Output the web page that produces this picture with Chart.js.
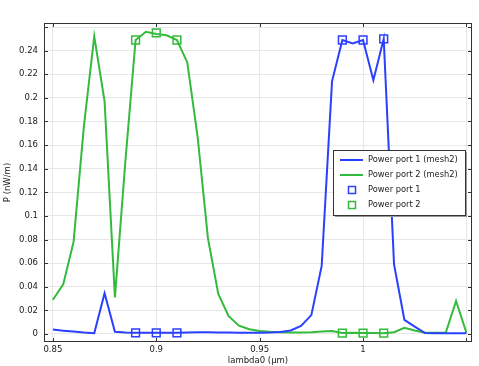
<!DOCTYPE html>
<html>
<head>
<meta charset="utf-8">
<script src="https://cdn.jsdelivr.net/npm/chart.js@4.4.0/dist/chart.umd.min.js"></script>
<style>
  body { margin: 0; background: #fff; }
  #wrap { width: 479px; height: 366px; }
</style>
</head>
<body>
<div id="wrap"><canvas id="powerChart" width="479" height="366"></canvas></div>
<script>
// lambda0 (µm)
const lambda = [0.85, 0.855, 0.86, 0.865, 0.87, 0.875, 0.88, 0.885, 0.89, 0.895,
                0.9, 0.905, 0.91, 0.915, 0.92, 0.925, 0.93, 0.935, 0.94, 0.945,
                0.95, 0.955, 0.96, 0.965, 0.97, 0.975, 0.98, 0.985, 0.99, 0.995,
                1.0, 1.005, 1.01, 1.015, 1.02, 1.025, 1.03, 1.035, 1.04, 1.045, 1.05];

// P (nW/m), mesh2 sweep
const port1Mesh2 = [0.0037, 0.0028, 0.002, 0.0012, 0.0007, 0.0345, 0.0018, 0.0013, 0.001, 0.001,
                    0.001, 0.001, 0.001, 0.0013, 0.0015, 0.0015, 0.0013, 0.0012, 0.001, 0.001,
                    0.001, 0.0012, 0.0017, 0.003, 0.0068, 0.016, 0.0576, 0.214, 0.249, 0.246,
                    0.249, 0.215, 0.25, 0.059, 0.012, 0.0062, 0.0008, 0.0006, 0.0006, 0.0006, 0.0006];
const port2Mesh2 = [0.029, 0.042, 0.078, 0.176, 0.252, 0.197, 0.031, 0.145, 0.249, 0.256,
                    0.254, 0.253, 0.249, 0.23, 0.167, 0.081, 0.034, 0.015, 0.007, 0.004,
                    0.0025, 0.0018, 0.0015, 0.0013, 0.0013, 0.0015, 0.002, 0.0025, 0.0008, 0.001,
                    0.0008, 0.0008, 0.0007, 0.0015, 0.0053, 0.003, 0.001, 0.001, 0.001, 0.028, 0.001];

// marker points
const markLambda = [0.89, 0.9, 0.91, 0.99, 1.0, 1.01];
const port1Marks = [0.001, 0.001, 0.001, 0.249, 0.249, 0.25];
const port2Marks = [0.249, 0.255, 0.249, 0.0008, 0.0008, 0.0007];

const xTicks = [0.85, 0.9, 0.95, 1, 1.05];
const yTicks = [0, 0.02, 0.04, 0.06, 0.08, 0.1, 0.12, 0.14, 0.16, 0.18, 0.2, 0.22, 0.24, 0.26];

const blue = '#2a40ff';
const green = '#33bb3c';
const fontFamily = '"DejaVu Sans", sans-serif';
const fontSize = 8.5;

function pairs(xs, ys) {
    return xs.map((x, i) => ({ x: x, y: ys[i] }));
}

// frame + inward ticks on all four sides
const framePlugin = {
    id: 'frame',
    afterDraw(chart) {
        const { ctx, chartArea: a, scales } = chart;
        ctx.save();
        ctx.strokeStyle = '#333';
        ctx.lineWidth = 1;
        ctx.strokeRect(a.left + 0.5, a.top + 0.5, a.right - a.left - 1, a.bottom - a.top - 1);
        ctx.beginPath();
        xTicks.forEach(v => {
            const px = Math.round(scales.x.getPixelForValue(v)) + 0.5;
            ctx.moveTo(px, a.bottom); ctx.lineTo(px, a.bottom - 4);
            ctx.moveTo(px, a.top); ctx.lineTo(px, a.top + 4);
        });
        yTicks.forEach(v => {
            const py = Math.round(scales.y.getPixelForValue(v)) + 0.5;
            ctx.moveTo(a.left, py); ctx.lineTo(a.left + 4, py);
            ctx.moveTo(a.right, py); ctx.lineTo(a.right - 4, py);
        });
        ctx.stroke();
        ctx.restore();
    }
};

// legend box inside plot, right side
const legendPlugin = {
    id: 'boxLegend',
    afterDraw(chart) {
        const ctx = chart.ctx;
        const x0 = 333, y0 = 150, w = 132, h = 65;
        ctx.save();
        ctx.fillStyle = '#999';
        ctx.fillRect(x0 + 2, y0 + 2, w, h);
        ctx.fillStyle = '#fff';
        ctx.fillRect(x0, y0, w, h);
        ctx.strokeStyle = '#333';
        ctx.lineWidth = 1;
        ctx.strokeRect(x0 + 0.5, y0 + 0.5, w, h);
        ctx.font = '8.3px ' + fontFamily;
        ctx.textBaseline = 'middle';
        const rows = [160, 175, 190, 205];
        chart.data.datasets.forEach((ds, i) => {
            const y = rows[i];
            ctx.strokeStyle = ds.borderColor;
            if (ds.showLine) {
                ctx.lineWidth = 2;
                ctx.beginPath();
                ctx.moveTo(340, y); ctx.lineTo(363, y);
                ctx.stroke();
            } else {
                ctx.lineWidth = 1.5;
                ctx.strokeRect(348.5, y - 3.5, 7, 7);
            }
            ctx.fillStyle = '#222';
            ctx.fillText(ds.label, 368, y);
        });
        ctx.restore();
    }
};

const ctx = document.getElementById('powerChart').getContext('2d');
const chart = new Chart(ctx, {
    type: 'line',
    data: {
        datasets: [{
            label: 'Power port 1 (mesh2)',
            data: pairs(lambda, port1Mesh2),
            borderColor: blue,
            borderWidth: 2,
            pointRadius: 0,
            showLine: true,
            tension: 0
        }, {
            label: 'Power port 2 (mesh2)',
            data: pairs(lambda, port2Mesh2),
            borderColor: green,
            borderWidth: 2,
            pointRadius: 0,
            showLine: true,
            tension: 0
        }, {
            label: 'Power port 1',
            data: pairs(markLambda, port1Marks),
            borderColor: blue,
            backgroundColor: 'rgba(255,255,255,0)',
            showLine: false,
            pointStyle: 'rect',
            pointRadius: 5.5,
            pointBorderWidth: 1.5
        }, {
            label: 'Power port 2',
            data: pairs(markLambda, port2Marks),
            borderColor: green,
            backgroundColor: 'rgba(255,255,255,0)',
            showLine: false,
            pointStyle: 'rect',
            pointRadius: 5.5,
            pointBorderWidth: 1.5
        }]
    },
    options: {
        responsive: false,
        animation: false,
        layout: { padding: { top: 23, right: 7, left: 0, bottom: 0 } },
        plugins: {
            legend: { display: false },
            tooltip: { enabled: false }
        },
        scales: {
            x: {
                type: 'linear',
                min: 0.8457,
                max: 1.0527,
                afterFit: s => { s.height = 24; },
                afterBuildTicks: s => { s.ticks = xTicks.map(v => ({ value: v })); },
                grid: { color: '#e8e8e8', drawTicks: false },
                border: { display: false },
                ticks: {
                    padding: 3,
                    color: '#1a1a1a',
                    font: { family: fontFamily, size: fontSize },
                    maxRotation: 0,
                    callback: v => (v > 1.04 ? '' : String(+v.toFixed(2)))
                },
                title: {
                    display: true,
                    text: 'lambda0 (µm)',
                    color: '#1a1a1a',
                    font: { family: fontFamily, size: fontSize },
                    padding: { top: -1, bottom: 0 }
                }
            },
            y: {
                type: 'linear',
                min: -0.0068,
                max: 0.2634,
                afterFit: s => { s.width = 44; },
                afterBuildTicks: s => { s.ticks = yTicks.map(v => ({ value: v })); },
                grid: { color: '#e8e8e8', drawTicks: false },
                border: { display: false },
                ticks: {
                    padding: 6,
                    color: '#1a1a1a',
                    font: { family: fontFamily, size: fontSize },
                    callback: v => (v > 0.25 ? '' : String(+v.toFixed(2)))
                },
                title: {
                    display: true,
                    text: 'P (nW/m)',
                    color: '#1a1a1a',
                    font: { family: fontFamily, size: fontSize },
                    padding: { top: 3, bottom: 0 }
                }
            }
        }
    },
    plugins: [framePlugin, legendPlugin]
});
</script>
</body>
</html>
